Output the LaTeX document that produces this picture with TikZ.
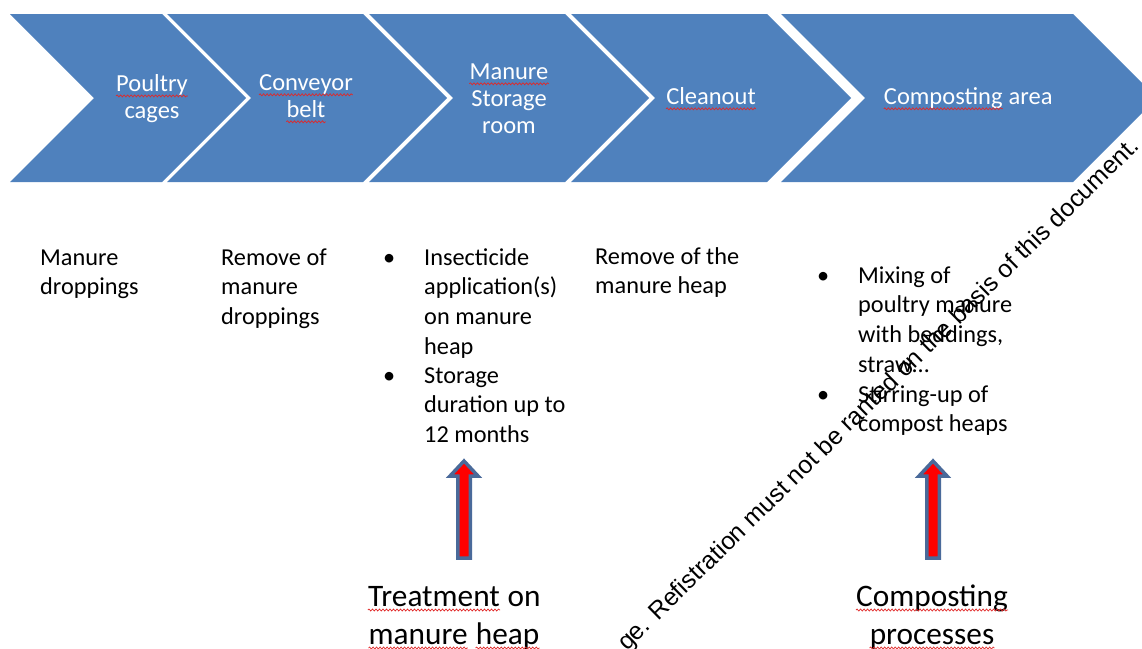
\documentclass[tikz,border=0pt]{standalone}
\usepackage{fontspec}
\setmainfont{Carlito}
\newfontfamily\wmfont{Liberation Sans}
\usetikzlibrary{decorations.pathmorphing}
\definecolor{chevblue}{HTML}{4F81BD}
\definecolor{arrowblue}{HTML}{4A6A9A}
\definecolor{squigred}{HTML}{E02828}
\tikzset{
  chev/.style={fill=chevblue, draw=none},
  chevtext/.style={text=white, align=center, inner sep=0pt, font=\fontsize{24.5}{27}\selectfont},
  bodytext/.style={text=black, align=left, inner sep=0pt, anchor=base west, font=\fontsize{24.3}{29.7}\selectfont},
  bullet/.style={text=black, inner sep=0pt, anchor=base west, font=\fontsize{24.3}{29.7}\selectfont},
  bigtext/.style={text=black, align=center, inner sep=0pt, anchor=base, font=\fontsize{31.3}{38}\selectfont},
  uparrow/.style={draw=arrowblue, line width=3.5pt, fill=red, line join=miter},
  watermark/.style={text=black, inner sep=0pt, anchor=base west, rotate=44.5, font=\wmfont\fontsize{24.8}{24.8}\selectfont},
  squig/.style={draw=squigred, line width=0.7pt, decorate, decoration={snake, amplitude=1pt, segment length=3.5pt}}
}
\newcommand\sq[1]{\tikz[baseline=(w.base)]{\node[inner sep=0pt, anchor=base] (w) at (0,0) {#1}; \path[squig] ([yshift=-4pt]w.base west) -- ([yshift=-4pt]w.base east);}}
\begin{document}
\begin{tikzpicture}[x=1pt,y=-1pt]
\useasboundingbox (0,0) rectangle (1142,648);
\clip (0,0) rectangle (1142,648);
% chevrons
\foreach \L/\R in {10/162,167/363,369/565,571/767,781/1073}
  \path[chev] (\L,14) -- (\R,14) -- ({\R+84},98) -- (\R,182) -- (\L,182) -- ({\L+84},98) -- cycle;
% chevron labels
\node[chevtext] (c1) at (152,99) {\sq{Poultry}\\cages};
\node[chevtext] (c2) at (306,99) {\sq{Conveyor}\\\sq{belt}};
\node[chevtext] (c3) at (509,99) {\sq{Manure}\\Storage\\room};
\node[chevtext] (c4) at (711,99) {\sq{Cleanout}};
\node[chevtext] (c5) at (968,99) {\sq{Composting} area};
% body texts (anchor = baseline of the last line)
\node[bodytext] (n1) at (40,294.7) {Manure\\droppings};
\node[bodytext] (n2) at (221,324.4) {Remove of\\manure\\droppings};
\node[bullet] (b1) at (383,265) {•};
\node[bodytext] (n3a) at (424,354.1) {Insecticide\\application(s)\\on manure\\heap};
\node[bullet] (b2) at (383,383) {•};
\node[bodytext] (n3b) at (424,442.4) {Storage\\duration up to\\12 months};
\node[bodytext] (n4) at (595,293.7) {Remove of the\\manure heap};
\node[bullet] (b3) at (817,283) {•};
\node[bodytext] (n5a) at (858,372.1) {Mixing of\\poultry manure\\with beddings,\\straw…};
\node[bullet] (b4) at (817,402) {•};
\node[bodytext] (n5b) at (858,431.7) {Stirring-up of\\compost heaps};
% bottom labels
\node[bigtext] (t1) at (454,644) {\sq{Treatment} on\\\sq{manure} \sq{heap}};
\node[bigtext] (t2) at (932,644) {\sq{Composting}\\\sq{processes}};
% arrows
\coordinate (a1) at (464,558);
\coordinate (a2) at (933,558);
\foreach \a in {a1,a2}
  \path[uparrow] ([xshift=-6.25pt]\a) -- ([xshift=-6.25pt,yshift=82pt]\a) -- ([xshift=-14pt,yshift=82pt]\a)
     -- ([yshift=97pt]\a) -- ([xshift=14pt,yshift=82pt]\a) -- ([xshift=6.25pt,yshift=82pt]\a)
     -- ([xshift=6.25pt]\a) -- cycle;
% watermark
\node[watermark] (wm) at (627,652) {ge. Refistration must not be ranted on the basis of this document.};
\end{tikzpicture}
\end{document}
